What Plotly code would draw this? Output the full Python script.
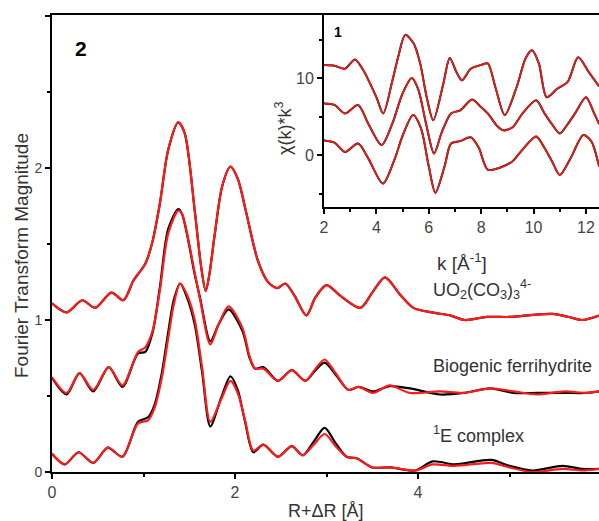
import plotly.graph_objects as go

# ---------------- data: main panel (R + dR, FT magnitude, offset curves) ----------------
r_uo2 = [0.00, 0.16, 0.33, 0.47, 0.65, 0.78, 0.89, 0.95, 1.02, 1.10, 1.18, 1.27, 1.38, 1.45, 1.56, 1.63, 1.68,
         1.72, 1.78, 1.86, 1.95, 2.03, 2.11, 2.25, 2.36, 2.46, 2.55, 2.65, 2.78, 2.88, 3.00, 3.15, 3.37,
         3.50, 3.64, 3.80, 3.95, 4.15, 4.35, 4.51, 4.75, 5.00, 5.20, 5.47, 5.65, 5.79, 5.98]
ft_uo2 = [1.11, 1.05, 1.13, 1.08, 1.18, 1.13, 1.26, 1.31, 1.37, 1.52, 1.77, 2.12, 2.30, 2.23, 1.72, 1.35, 1.19,
          1.30, 1.57, 1.88, 2.01, 1.93, 1.74, 1.39, 1.25, 1.21, 1.24, 1.16, 1.03, 1.15, 1.23, 1.16, 1.08,
          1.18, 1.28, 1.17, 1.08, 1.05, 1.03, 1.00, 1.02, 1.02, 1.03, 1.04, 1.02, 1.00, 1.03]

r_fh = [0.00, 0.16, 0.30, 0.45, 0.62, 0.77, 0.94, 1.02, 1.10, 1.18, 1.27, 1.38, 1.42, 1.56, 1.62, 1.73,
        1.82, 1.93, 2.08, 2.16, 2.22, 2.31, 2.47, 2.62, 2.77, 2.88, 2.98, 3.10, 3.24, 3.35, 3.51, 3.69,
        3.91, 4.24, 4.50, 4.79, 5.05, 5.30, 5.60, 5.85, 5.98]
ft_fh_fit = [0.625, 0.52, 0.65, 0.54, 0.69, 0.57, 0.79, 0.82, 0.93, 1.20, 1.57, 1.72, 1.70, 1.31, 1.13, 0.84,
             0.97, 1.09, 0.95, 0.76, 0.68, 0.68, 0.60, 0.67, 0.60, 0.68, 0.74, 0.65, 0.54, 0.56, 0.52, 0.57,
             0.52, 0.53, 0.52, 0.55, 0.53, 0.51, 0.53, 0.52, 0.53]
ft_fh_data = [0.62, 0.51, 0.65, 0.53, 0.69, 0.56, 0.78, 0.79, 0.92, 1.22, 1.60, 1.73, 1.70, 1.30, 1.14, 0.86,
              0.97, 1.07, 0.93, 0.75, 0.68, 0.69, 0.60, 0.67, 0.60, 0.67, 0.72, 0.64, 0.54, 0.56, 0.53, 0.565,
              0.55, 0.51, 0.52, 0.55, 0.52, 0.52, 0.52, 0.52, 0.53]

r_e = [0.00, 0.14, 0.29, 0.45, 0.61, 0.77, 0.94, 1.05, 1.12, 1.20, 1.27, 1.33, 1.40, 1.48, 1.56, 1.64, 1.73,
       1.85, 1.95, 2.03, 2.11, 2.20, 2.31, 2.47, 2.62, 2.74, 2.86, 2.98, 3.10, 3.22, 3.33, 3.50, 3.70,
       3.97, 4.16, 4.40, 4.80, 5.00, 5.25, 5.58, 5.80, 5.98]
ft_e_fit = [0.12, 0.05, 0.13, 0.06, 0.16, 0.10, 0.32, 0.34, 0.42, 0.62, 0.88, 1.10, 1.24, 1.16, 1.00, 0.69, 0.33,
            0.48, 0.60, 0.52, 0.34, 0.14, 0.18, 0.10, 0.17, 0.11, 0.18, 0.25, 0.17, 0.10, 0.09, 0.03, 0.03,
            0.01, 0.05, 0.04, 0.06, 0.03, 0.00, 0.02, 0.01, 0.02]
ft_e_data = [0.12, 0.05, 0.13, 0.06, 0.16, 0.10, 0.33, 0.36, 0.44, 0.65, 0.92, 1.13, 1.24, 1.14, 0.97, 0.66, 0.30,
             0.49, 0.63, 0.54, 0.33, 0.13, 0.18, 0.10, 0.17, 0.11, 0.20, 0.29, 0.19, 0.10, 0.09, 0.03, 0.03,
             0.01, 0.07, 0.05, 0.08, 0.04, 0.01, 0.04, 0.02, 0.02]

# ---------------- data: inset (k, chi(k)*k^3, offset curves) ----------------
k_uo2 = [2.0, 2.4, 2.8, 3.18, 3.5, 4.0, 4.26, 4.6, 4.85, 5.1, 5.42, 5.67, 5.92, 6.17, 6.55, 6.8, 7.05, 7.27,
         7.6, 8.0, 8.25, 8.55, 8.9, 9.35, 9.7, 9.94, 10.2, 10.5, 10.9, 11.3, 11.7, 12.1, 12.5]
chi_uo2 = [11.7, 11.6, 11.2, 12.4, 11.0, 7.5, 5.4, 9.5, 13.0, 15.6, 14.5, 11.9, 7.5, 4.5, 9.2, 12.6, 10.8, 9.7,
           11.2, 11.7, 11.9, 8.7, 5.2, 8.8, 12.6, 13.6, 11.9, 7.5, 8.6, 9.5, 12.7, 10.8, 8.9]

k_fh = [2.0, 2.4, 2.8, 3.3, 3.7, 4.2, 4.6, 5.0, 5.35, 5.6, 5.9, 6.2, 6.5, 6.85, 7.2, 7.65, 8.0, 8.25, 8.6,
        8.85, 9.2, 9.6, 10.1, 10.4, 10.7, 11.0, 11.3, 11.6, 12.0, 12.3, 12.5]
chi_fh = [6.7, 6.5, 5.4, 6.5, 4.0, 1.3, 4.0, 8.0, 10.0, 8.5, 4.0, 0.2, 3.0, 5.4, 5.8, 7.2, 6.2, 5.4, 3.8,
          3.2, 3.6, 5.5, 7.1, 5.5, 4.0, 2.8, 4.0, 5.5, 7.5, 5.5, 4.0]

k_e = [2.0, 2.4, 2.8, 3.3, 3.7, 4.25, 4.7, 5.0, 5.4, 5.7, 6.0, 6.25, 6.6, 6.85, 7.2, 7.6, 7.9, 8.25, 8.75,
       9.2, 9.6, 10.1, 10.4, 10.7, 11.0, 11.4, 11.9, 12.2, 12.5]
chi_e = [1.9, 1.6, 0.4, 1.5, -0.5, -3.7, -0.5, 2.5, 5.2, 3.5, -1.5, -4.9, -1.5, 1.5, 1.8, 2.3, 1.0, -1.9, -1.6,
         -0.8, 0.8, 2.4, 1.0, -0.8, -2.6, -0.5, 2.6, 1.8, -1.5]

y_tickvals = [0, 1, 2, 3]
y_ticktext = ["0", "1", "2", ""]

labels = ["UO<sub>2</sub>(CO<sub>3</sub>)<sub>3</sub><sup>4-</sup>", "Biogenic ferrihydrite", "<sup>1</sup>E complex"]

# ---------------- figure ----------------
W, H = 599, 521
X0, X1, Y1, Y0 = 52, 599, 15, 472   # plot area edges in window pixels
ML, MT = X0, Y1
MR, MB = W - X1, H - Y0
PW, PH = X1 - X0, Y0 - Y1
FONT = "Liberation Sans, Arial, sans-serif"
RED = "#ff1a1a"


def px(xp):
    return (xp - X0) / PW


def py(yp):
    return (Y0 - yp) / PH


fig = go.Figure()


def add(x, y, color, xa="x", ya="y", w=2.2):
    fig.add_trace(go.Scatter(x=x, y=y, mode="lines", line=dict(color=color, width=w, shape="spline", smoothing=0.8),
                             xaxis=xa, yaxis=ya, showlegend=False, hoverinfo="skip"))


add(r_uo2, ft_uo2, "black")
add(r_uo2, ft_uo2, RED)
add(r_fh, ft_fh_data, "black")
add(r_fh, ft_fh_fit, RED)
add(r_e, ft_e_data, "black")
add(r_e, ft_e_fit, RED)

for kk, cc in [(k_uo2, chi_uo2), (k_fh, chi_fh), (k_e, chi_e)]:
    add(kk, cc, "black", "x2", "y2", 2.0)
    add(kk, cc, "#e0201a", "x2", "y2", 1.8)


def axis_common(size):
    return dict(showline=True, linecolor="black", linewidth=2, ticks="outside", tickcolor="black",
                ticklen=5, tickwidth=1.5, showgrid=False, zeroline=False,
                tickfont=dict(family=FONT, size=size, color="#444444"))


minor_x = dict(ticks="outside", ticklen=3, tickcolor="black")

fig.update_layout(
    width=W, height=H, margin=dict(l=ML, r=MR, t=MT, b=MB, autoexpand=False),
    plot_bgcolor="white", paper_bgcolor="white",
    font=dict(family=FONT, color="#333333"),
    xaxis=dict(range=[0, PW / 91.5], domain=[0, 1], dtick=2, tick0=0, mirror=True,
               minor=dict(dtick=1, **minor_x), **axis_common(16)),
    yaxis=dict(range=[0, PH / 152], domain=[0, 1], tickmode="array", tickvals=y_tickvals, ticktext=y_ticktext,
               minor=dict(dtick=0.5, tick0=0, **minor_x), **axis_common(14)),
    xaxis2=dict(anchor="y2", domain=[px(324), 1], range=[2, 2 + (X1 - 324) / 26.2], dtick=2, tick0=2, mirror=True,
                minor=dict(dtick=1, **minor_x), **axis_common(16)),
    yaxis2=dict(anchor="x2", domain=[py(207), 1], range=[(155 - 207) / 7.7, (155 - 15) / 7.7], dtick=10, tick0=0,
                minor=dict(dtick=5, **minor_x), **axis_common(16)),
)

ann = [
    dict(text="Fourier Transform Magnitude", x=px(21), y=py(256), textangle=-90, font=dict(size=19)),
    dict(text="R+ΔR [Å]", x=px(326), y=py(511), font=dict(size=18)),
    dict(text="χ(k)*k<sup>3</sup>", x=px(283), y=py(129), textangle=-90, font=dict(size=18)),
    dict(text="k [Å<sup>-1</sup>]", x=px(462), y=py(262), font=dict(size=19)),
    dict(text="<b>2</b>", x=px(81), y=py(49), font=dict(size=21, color="black")),
    dict(text="<b>1</b>", x=px(338), y=py(32), font=dict(size=14, color="black")),
    dict(text=labels[0], x=px(431), y=py(289), xanchor="left", font=dict(size=18)),
    dict(text=labels[1], x=px(431), y=py(366), xanchor="left", font=dict(size=18)),
    dict(text=labels[2], x=px(431), y=py(434), xanchor="left", font=dict(size=18)),
]
for a in ann:
    a.setdefault("xanchor", "center")
    a.update(xref="paper", yref="paper", yanchor="middle", showarrow=False)
    a["font"].setdefault("family", FONT)
    a["font"].setdefault("color", "#333333")
fig.update_layout(annotations=ann)

fig.write_html(
    "out.html",
    config={"displayModeBar": False},
    post_script="document.documentElement.style.overflow='hidden';"
                "document.body.style.margin='0';document.body.style.overflow='hidden';",
)
